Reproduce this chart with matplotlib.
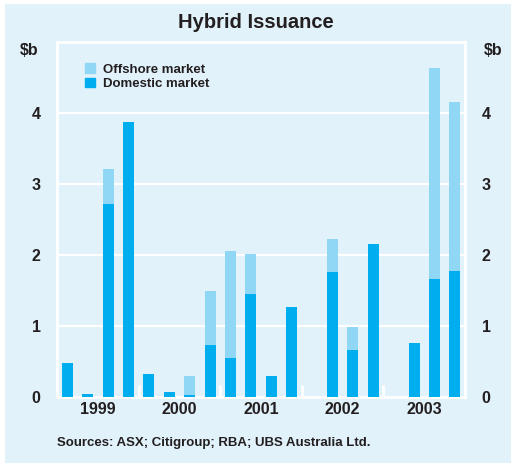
import numpy as np
import matplotlib
matplotlib.use("Agg")
import matplotlib.pyplot as plt
import matplotlib.patches as mpatches

# quarterly issuance, 1999 Q1 .. 2003 Q4 ($b)
quarters = ["1999Q1", "1999Q2", "1999Q3", "1999Q4",
            "2000Q1", "2000Q2", "2000Q3", "2000Q4",
            "2001Q1", "2001Q2", "2001Q3", "2001Q4",
            "2002Q1", "2002Q2", "2002Q3", "2002Q4",
            "2003Q1", "2003Q2", "2003Q3", "2003Q4"]
domestic = [0.47, 0.04, 2.71, 3.87, 0.32, 0.07, 0.02, 0.73, 0.55, 1.45,
            0.29, 1.26, 0.0, 1.76, 0.66, 2.15, 0.0, 0.76, 1.66, 1.77]
offshore = [0.0, 0.0, 0.50, 0.0, 0.0, 0.0, 0.27, 0.76, 1.50, 0.56,
            0.0, 0.0, 0.0, 0.47, 0.32, 0.0, 0.0, 0.0, 2.98, 2.38]
years = ["1999", "2000", "2001", "2002", "2003"]
y_ticks = [0, 1, 2, 3, 4]

BG = "#e1f2fa"
DOM = "#00aeef"
OFF = "#8fd7f5"
TXT = "#231f20"

plt.rcParams["font.family"] = ["Liberation Sans", "DejaVu Sans"]
plt.rcParams["font.weight"] = "bold"

fig = plt.figure(figsize=(5.11, 4.63), dpi=100)
fig.patch.set_facecolor("white")
# light blue panel (thin white margin at top/left)
fig.patches.append(mpatches.Rectangle((5 / 511, 0), 1, 1 - 4 / 463,
                                      transform=fig.transFigure,
                                      facecolor=BG, edgecolor="none", zorder=-5))

ax = fig.add_axes([0.112, 0.1432, 0.798, 0.7661])
ax.set_facecolor(BG)

x = np.arange(len(quarters))
w = 0.54
ax.bar(x, domestic, width=w, color=DOM, zorder=3, label="Domestic market")
ax.bar(x, offshore, width=w, bottom=domestic, color=OFF, zorder=3,
       label="Offshore market")

ax.set_xlim(-0.5, len(quarters) - 0.5)
ax.set_ylim(0, 5)

for v in y_ticks[1:]:
    ax.axhline(v, color="white", lw=1.6, zorder=1)

for s in ax.spines.values():
    s.set_color("white")
    s.set_linewidth(2)

ax.set_yticks(y_ticks)
ax.set_yticklabels([str(v) for v in y_ticks])
ax.tick_params(axis="y", length=0, labelsize=11.5, labelcolor=TXT,
               left=True, right=True, labelleft=True, labelright=True, pad=12)

# year boundaries as short white marks, labels in the middle of each year
ax.set_xticks([3.5, 7.5, 11.5, 15.5])
ax.set_xticklabels([])
ax.tick_params(axis="x", which="major", direction="in", length=9, width=2,
               color="white")
ax.set_xticks([1.5, 5.5, 9.5, 13.5, 17.5], minor=True)
ax.set_xticklabels(years, minor=True)
ax.tick_params(axis="x", which="minor", length=0, labelsize=11.5,
               labelcolor=TXT, pad=4)
for t in ax.get_xticklines():
    t.set_zorder(5)

ax.text(-0.045, 0.977, "$b", transform=ax.transAxes, ha="right", va="center",
        fontsize=11.5, color=TXT)
ax.text(1.045, 0.977, "$b", transform=ax.transAxes, ha="left", va="center",
        fontsize=11.5, color=TXT)

h_off = mpatches.Patch(color=OFF, label="Offshore market")
h_dom = mpatches.Patch(color=DOM, label="Domestic market")
ax.legend(handles=[h_off, h_dom], loc="upper left", bbox_to_anchor=(0.068, 0.94),
          frameon=False, fontsize=9.5, handlelength=0.75, handleheight=0.75,
          handletextpad=0.6, labelspacing=0.15, borderpad=0, borderaxespad=0,
          labelcolor=TXT)

fig.text(0.5, 1 - 23 / 463, "Hybrid Issuance", ha="center", va="center",
         fontsize=14.5, color=TXT)
fig.text(57 / 511, 1 - 443 / 463, "Sources: ASX; Citigroup; RBA; UBS Australia Ltd.",
         ha="left", va="center", fontsize=9.5, color=TXT)

fig.savefig("out.png", dpi=100, facecolor=fig.get_facecolor())
